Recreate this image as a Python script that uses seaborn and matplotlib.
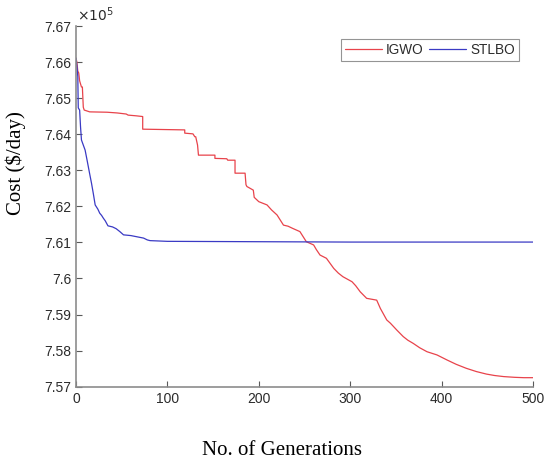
import matplotlib
matplotlib.use("Agg")
import matplotlib.pyplot as plt
import seaborn as sns
import pandas as pd
from matplotlib.ticker import FuncFormatter

# Cost values in units of 10^5 $/day
igwo_gen = [0, 1, 2, 3, 4, 6, 7, 8, 9, 15, 34, 45, 55, 57, 66, 73, 73, 119, 119, 128, 130, 131,
            133, 134, 152, 152, 165, 166, 174, 174, 185, 186, 187, 194, 195, 200, 209, 214,
            220, 224, 227, 232, 237, 245, 252, 260, 263, 267, 274, 282, 287, 292, 302, 306,
            311, 318, 329, 333, 340, 344, 351, 358, 363, 369, 376, 384, 395, 406, 416, 427,
            438, 449, 458, 468, 480, 490, 500]
igwo_cost = [7.6611, 7.6600, 7.6575, 7.6570, 7.6548, 7.6531, 7.6531, 7.6475, 7.6467, 7.6462,
             7.6461, 7.6459, 7.6456, 7.6453, 7.6451, 7.6449, 7.6414, 7.6412, 7.6403, 7.6401,
             7.6393, 7.6393, 7.6370, 7.6342, 7.6342, 7.6333, 7.6332, 7.6328, 7.6328, 7.6292,
             7.6292, 7.6260, 7.6255, 7.6245, 7.6225, 7.6213, 7.6204, 7.6190, 7.6176, 7.6160,
             7.6148, 7.6145, 7.6139, 7.6130, 7.6102, 7.6093, 7.6080, 7.6065, 7.6056, 7.6028,
             7.6015, 7.6005, 7.5991, 7.5980, 7.5963, 7.5945, 7.5940, 7.5917, 7.5885, 7.5876,
             7.5857, 7.5839, 7.5829, 7.5820, 7.5808, 7.5797, 7.5788, 7.5774, 7.5762, 7.5751,
             7.5742, 7.5735, 7.5731, 7.5728, 7.5726, 7.5725, 7.5725]

stlbo_gen = [0, 1, 2, 2.5, 4, 5, 6, 8, 10, 12, 13.5, 15, 17, 19, 21, 24, 26, 28, 30, 32, 35,
             40, 44, 48, 52, 60, 66, 74, 78, 81, 100, 200, 300, 400, 500]
stlbo_cost = [7.6611, 7.6590, 7.6560, 7.6473, 7.6467, 7.6420, 7.6384, 7.6370, 7.6356, 7.6330,
              7.6310, 7.6290, 7.6264, 7.6235, 7.6204, 7.6192, 7.6181, 7.6175, 7.6167, 7.6160,
              7.6146, 7.6143, 7.6138, 7.6130, 7.6121, 7.6119, 7.6116, 7.6112, 7.6107, 7.6105,
              7.6103, 7.6102, 7.6101, 7.6101, 7.6101]

algorithms = ["IGWO", "STLBO"]
colors = {"IGWO": "#e8434b", "STLBO": "#3a3ac4"}

df = pd.concat([
    pd.DataFrame({"gen": igwo_gen, "cost": igwo_cost, "alg": "IGWO"}),
    pd.DataFrame({"gen": stlbo_gen, "cost": stlbo_cost, "alg": "STLBO"}),
])

sns.set_style("white")
plt.rcParams['font.family'] = ['Liberation Sans', 'DejaVu Sans']

fig = plt.figure(figsize=(5.45, 4.63), dpi=100)
ax = fig.add_axes([0.1394, 0.1648, 0.8386, 0.779])

sns.lineplot(data=df, x="gen", y="cost", hue="alg", hue_order=algorithms,
             palette=colors, estimator=None, sort=False, linewidth=0.9, ax=ax)

ax.set_xlim(0, 500)
ax.set_ylim(7.57, 7.67)
ax.set_xticks([0, 100, 200, 300, 400, 500])
ax.set_yticks([7.57 + 0.01 * i for i in range(11)])
ax.yaxis.set_major_formatter(FuncFormatter(lambda v, p: f"{round(v, 2):g}"))

for s in ["top", "right"]:
    ax.spines[s].set_visible(False)
for s in ["left", "bottom"]:
    ax.spines[s].set_color("#8c8c8c")
    ax.spines[s].set_linewidth(1.2)

ax.tick_params(direction="in", length=4, width=0.8, color="#5a5a5a",
               labelsize=10, labelcolor="#2b2b2b", left=True, bottom=True)

ax.text(0.002, 1.005, r"$\times10^5$", transform=ax.transAxes, fontsize=10,
        color="#2b2b2b", ha="left", va="bottom")

ax.set_xlabel("No. of Generations", fontfamily="Liberation Serif", fontsize=15, color="black")
ax.set_ylabel("Cost ($/day)", fontfamily="Liberation Serif", fontsize=15, color="black")
ax.xaxis.set_label_coords(0.451, -0.150)
ax.yaxis.set_label_coords(-0.109, 0.62)

leg = ax.legend(loc="upper right", bbox_to_anchor=(0.969, 0.964), ncol=2, frameon=True,
                fancybox=False, fontsize=9.8, handlelength=2.7, columnspacing=0.4,
                handletextpad=0.3, borderpad=0.3, borderaxespad=0)
leg.get_frame().set_edgecolor("#7a7a7a")
leg.get_frame().set_linewidth(0.8)
for t in leg.get_texts():
    t.set_color("#2b2b2b")

fig.savefig("out.png", dpi=100)
